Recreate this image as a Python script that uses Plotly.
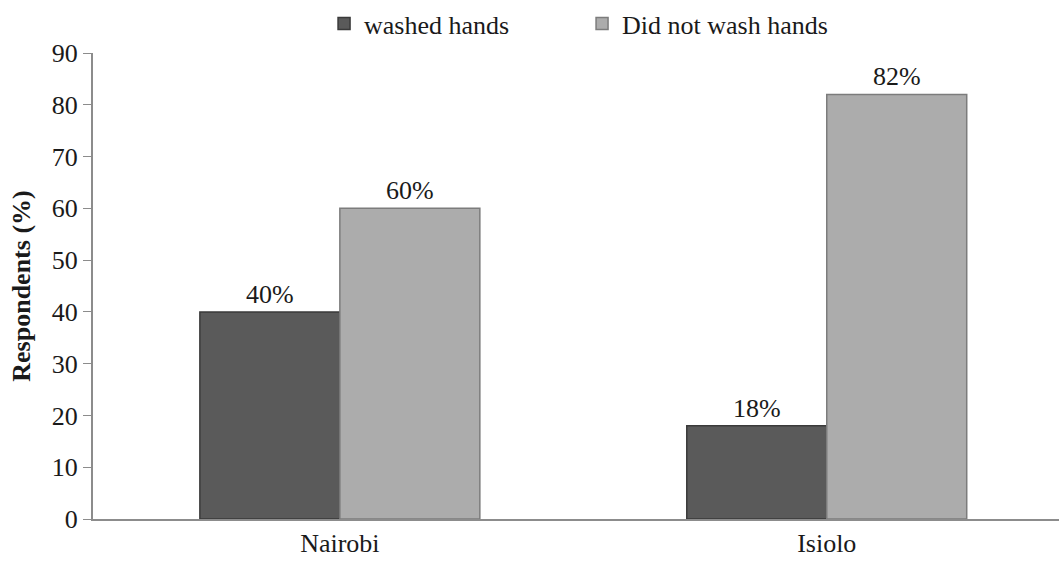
import plotly.graph_objects as go

categories = ["Nairobi", "Isiolo"]
washed = [40, 18]
not_washed = [60, 82]
series_names = ["washed hands", "Did not wash hands"]
y_ticks = [0, 10, 20, 30, 40, 50, 60, 70, 80, 90]

FONT = "Liberation Serif, Times New Roman, serif"
FS = 26

fig = go.Figure()
fig.add_trace(go.Bar(
    x=categories, y=washed, name=series_names[0],
    text=[f"{v}%" for v in washed], textposition="outside",
    textfont=dict(size=FS, color="#1a1a1a", family=FONT),
    marker=dict(color="#5a5a5a", line=dict(color="#3a3a3a", width=1.5)),
    cliponaxis=False,
))
fig.add_trace(go.Bar(
    x=categories, y=not_washed, name=series_names[1],
    text=[f"{v}%" for v in not_washed], textposition="outside",
    textfont=dict(size=FS, color="#1a1a1a", family=FONT),
    marker=dict(color="#acacac", line=dict(color="#7c7c7c", width=1.5)),
    cliponaxis=False,
))

fig.update_layout(
    width=1059, height=561,
    margin=dict(l=93, r=0, t=53, b=42, autoexpand=False),
    paper_bgcolor="white", plot_bgcolor="white",
    font=dict(family=FONT, size=FS, color="#1a1a1a"),
    barmode="group", bargap=0.425, bargroupgap=0,
    showlegend=True,
    legend=dict(orientation="h", x=0.306, xanchor="left", y=1.0, yanchor="top",
                yref="container", xref="container", font=dict(size=FS, family=FONT),
                itemwidth=30, entrywidth=213, entrywidthmode="pixels",
                bgcolor="rgba(0,0,0,0)"),
    xaxis=dict(showline=True, linecolor="#8c8c8c", linewidth=2, ticks="",
               range=[-0.507, 1.477],
               tickfont=dict(size=FS, family=FONT), showgrid=False),
    yaxis=dict(range=[0, 90], tickvals=y_ticks, showline=True, linecolor="#8c8c8c",
               linewidth=2, ticks="outside", ticklen=8, tickcolor="#8c8c8c",
               showgrid=False, zeroline=False,
               tickfont=dict(size=FS, family=FONT),
               title=dict(text="<b>Respondents (%)</b>", font=dict(size=FS, family=FONT), standoff=14)),
)

fig.write_html("out.html", config={"displayModeBar": False},
               post_script="document.body.style.margin='0';document.body.style.padding='0';")
